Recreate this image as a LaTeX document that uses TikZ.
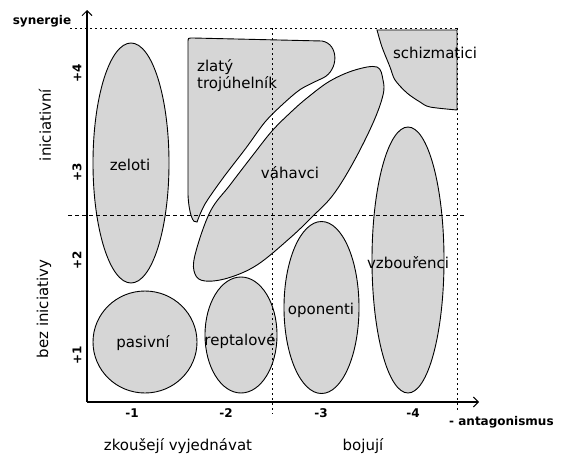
\documentclass[tikz,border=0pt]{standalone}
\usepackage{fontspec}
\setmainfont{DejaVu Sans}
\usetikzlibrary{arrows.meta}
\definecolor{regfill}{RGB}{214,214,214}
\tikzset{
  region/.style={draw=black, line width=0.9pt, fill=regfill},
  axisline/.style={draw=black, line width=1.4pt},
  dotline/.style={draw=black, line width=1pt, dash pattern=on 1.5pt off 3.5pt},
  dashline/.style={draw=black, line width=1pt, dash pattern=on 4pt off 3pt},
  lbl/.style={font=\fontsize{15}{17}\selectfont, inner sep=0pt},
  small/.style={font=\bfseries\fontsize{12}{14}\selectfont, inner sep=0pt},
}
\begin{document}
\begin{tikzpicture}[x=1pt,y=-1pt]
\useasboundingbox (0,0) rectangle (561,455);
% regions
\draw[region] (131,163) ellipse [x radius=38pt, y radius=120pt];
\draw[region] (188,42) .. controls (188,38) .. (193,38) -- (322,41)
  .. controls (339,44) and (339,70) .. (323,78)
  -- plot[smooth] coordinates {(323,78) (301,89) (283,104) (265,122) (246,148) (223,178) (205,204) (197,222)}
  .. controls (193,224) and (189,214) .. (188,195) -- cycle;
\draw[region] plot[smooth cycle, tension=0.6] coordinates {(377,67) (383,80) (383,95) (373,123) (353,163) (333,195) (313,216) (290,238) (257,265) (228,278) (205,281) (195,274) (195,255) (210,212) (230,185) (253,155) (272,131) (290,113) (307,98) (330,81) (355,70)};
\draw[region] (377,30) -- (457,30) -- (457,110)
  -- plot[smooth] coordinates {(457,110) (430,107) (420,102) (407,93) (395,80) (390,67) (382,47) (377,30)} -- cycle;
\draw[region] (408,260) ellipse [x radius=36pt, y radius=133pt];
\draw[region] (321.5,307.5) ellipse [x radius=37.5pt, y radius=86pt];
\draw[region] (241,335) ellipse [x radius=36pt, y radius=58pt];
\draw[region] (145,342) ellipse [x radius=52pt, y radius=51pt];
% guide lines
\coordinate (tl) at (70,28);
\coordinate (tr) at (457,28);
\coordinate (ml) at (68,215);
\coordinate (mr) at (465,215);
\coordinate (vt) at (272,28);
\coordinate (vb) at (272,414);
\coordinate (rb) at (457,410);
\draw[dotline] (tl) -- (tr);
\draw[dotline] (vt) -- (vb);
\draw[dotline] (tr) -- (rb);
\draw[dashline] (ml) -- (mr);
% axes
\coordinate (o) at (87,402);
\coordinate (ytip) at (87,10);
\coordinate (xtip) at (479,402);
\draw[axisline, -{Straight Barb[length=5pt,width=10pt,line width=1pt]}] (o) -- (ytip);
\draw[axisline, line width=1.2pt, -{Straight Barb[length=5pt,width=10pt,line width=1pt]}] (o) -- (xtip);
% region labels
\node[lbl, anchor=west] (zl1) at (197,67) {zlatý};
\node[lbl, anchor=west] (zl2) at (197,84) {trojúhelník};
\node[lbl] (zel) at (130,165) {zeloti};
\node[lbl] (vah) at (290,173) {váhavci};
\node[lbl] (sch) at (435,53) {schizmatici};
\node[lbl] (vzb) at (408,263) {vzbouřenci};
\node[lbl] (opo) at (321,310) {oponenti};
\node[lbl] (rep) at (240,341) {reptalové};
\node[lbl] (pas) at (143,343) {pasivní};
% axis labels
\node[small] (syn) at (42,21) {synergie};
\node[small, anchor=west] (ant) at (449,422) {- antagonismus};
\node[lbl, rotate=90] (ini) at (45,125) {iniciativní};
\node[lbl, rotate=90] (bez) at (44,309) {bez iniciativy};
\node[small, rotate=90] (p4) at (77,73) {+4};
\node[small, rotate=90] (p3) at (77,172) {+3};
\node[small, rotate=90] (p2) at (77,260) {+2};
\node[small, rotate=90] (p1) at (77,355) {+1};
\node[small] (m1) at (132,413) {-1};
\node[small] (m2) at (226,413) {-2};
\node[small] (m3) at (321,413) {-3};
\node[small] (m4) at (413,413) {-4};
\node[lbl] (zko) at (178,446) {zkoušejí vyjednávat};
\node[lbl] (boj) at (363,446) {bojují};
\end{tikzpicture}
\end{document}
